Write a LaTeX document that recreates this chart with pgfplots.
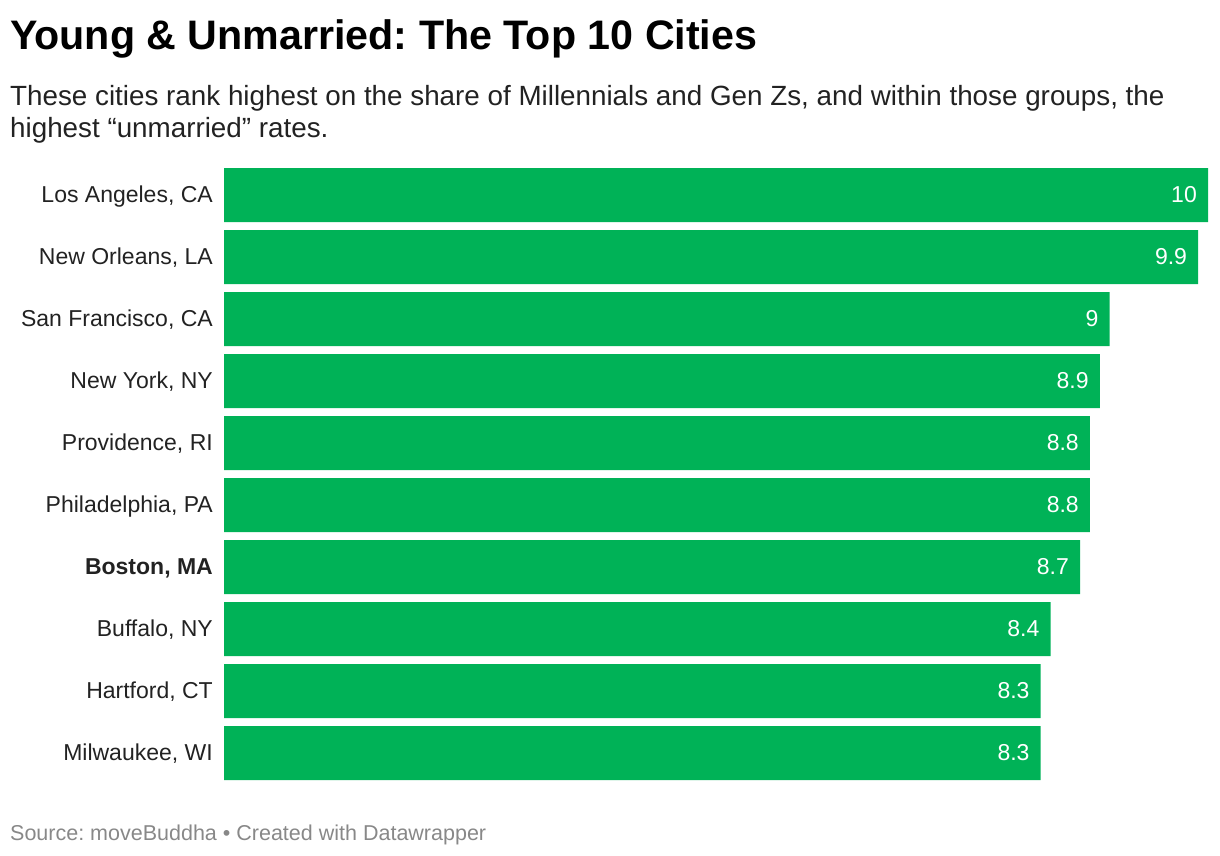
\documentclass[border=0pt]{standalone}
\usepackage{pgfplots}
\pgfplotsset{compat=1.18}
\usepackage{fontspec}
\setmainfont{Liberation Sans}
\frenchspacing
\definecolor{bargreen}{HTML}{00B257}
\definecolor{labgray}{HTML}{222222}
\definecolor{srcgray}{HTML}{888888}
\begin{document}
\begin{tikzpicture}
\path[use as bounding box] (0pt,0pt) rectangle (1220pt,-856pt);
\node[anchor=base west, inner sep=0pt, text=black] at (10pt,-50pt) {\fontsize{41.2}{49}\selectfont\bfseries Young \& Unmarried: The Top 10 Cities};
\node[anchor=base west, inner sep=0pt, text=labgray] at (10pt,-106pt) {\fontsize{27.8}{32}\selectfont These cities rank highest on the share of Millennials and Gen Zs, and within those groups, the};
\node[anchor=base west, inner sep=0pt, text=labgray] at (10pt,-138pt) {\fontsize{27.8}{32}\selectfont highest “unmarried” rates.};
\node[anchor=base west, inner sep=0pt, text=srcgray] at (10pt,-840pt) {\fontsize{21.5}{26}\selectfont Source: moveBuddha • Created with Datawrapper};
\begin{axis}[
  at={(224pt,-164pt)}, anchor=north west,
  scale only axis, width=984pt, height=620pt,
  xmin=0, xmax=10, ymin=-0.5, ymax=9.5,
  y dir=reverse,
  xbar, bar width=54pt,
  axis line style={draw=none},
  hide x axis,
  major tick length=0pt,
  ytick={0,...,9},
  yticklabels={{Los Angeles, CA}, {New Orleans, LA}, {San Francisco, CA}, {New York, NY}, {Providence, RI}, {Philadelphia, PA}, {\bfseries Boston, MA}, {Buffalo, NY}, {Hartford, CT}, {Milwaukee, WI}},
  yticklabel style={anchor=base east, inner sep=0pt, xshift=-11pt, yshift=-7pt, text=labgray, font=\fontsize{23}{27}\selectfont},
  point meta=explicit symbolic,
  nodes near coords,
  every node near coord/.append style={anchor=base east, inner sep=0pt, xshift=-11pt, yshift=-7.5pt, text=white, font=\fontsize{23}{27}\selectfont},
  clip=false,
]
\addplot[fill=bargreen, draw=none] coordinates {
(10,0) [10]
(9.9,1) [9.9]
(9,2) [9]
(8.9,3) [8.9]
(8.8,4) [8.8]
(8.8,5) [8.8]
(8.7,6) [8.7]
(8.4,7) [8.4]
(8.3,8) [8.3]
(8.3,9) [8.3]
};
\end{axis}
\end{tikzpicture}
\end{document}
